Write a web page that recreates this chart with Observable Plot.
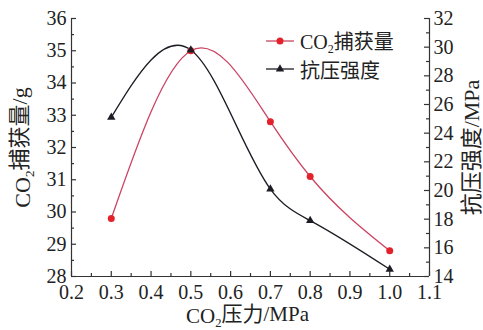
<!DOCTYPE html>
<html><head><meta charset="utf-8">
<script src="https://cdn.jsdelivr.net/npm/d3@7"></script>
<script src="https://cdn.jsdelivr.net/npm/@observablehq/plot@0.6"></script>
<style>
body{margin:0;background:#fff;}
#chart{position:relative;width:483px;height:330px;}
.legend{position:absolute;left:264px;top:27px;font-family:'Liberation Serif','Noto Sans CJK SC',serif;font-size:20px;color:#222;}
.legend .row{display:flex;align-items:center;height:28px;}
.legend svg{width:32px;height:14px;margin-right:4px;}
.legend sub{font-size:12px;vertical-align:-4px;}
</style></head><body><div id="chart"><div class="legend" id="legend"></div></div>
<script>
// ---- data ----
const pressure = [0.3, 0.5, 0.7, 0.8, 1.0];
const co2Capture = [29.8, 35.0, 32.8, 31.1, 28.8];
const strength = [25.1, 29.8, 20.1, 17.9, 14.5];
const xTicks = [0.2, 0.3, 0.4, 0.5, 0.6, 0.7, 0.8, 0.9, 1.0, 1.1];
const xMinor = [0.25, 0.35, 0.45, 0.55, 0.65, 0.75, 0.85, 0.95, 1.05];
const leftTicks = [28, 29, 30, 31, 32, 33, 34, 35, 36];
const leftMinor = [28.5, 29.5, 30.5, 31.5, 32.5, 33.5, 34.5, 35.5];
const rightTicks = [14, 16, 18, 20, 22, 24, 26, 28, 30, 32];
const rightMinor = [15, 17, 19, 21, 23, 25, 27, 29, 31];
const seriesNames = ["CO2捕获量", "抗压强度"];
const xTitle = "CO2压力/MPa";
const leftTitle = "CO2捕获量/g";
const rightTitle = "抗压强度/MPa";

const leftDomain = [28, 36];
const rightDomain = [14, 32];
const toLeft = v => leftDomain[0] + (v - rightDomain[0]) * (leftDomain[1] - leftDomain[0]) / (rightDomain[1] - rightDomain[0]);

const rows = pressure.map((p, i) => ({p, co2: co2Capture[i], s: strength[i]}));

const redLine = "#cc4363", redDot = "#e3222b", blk = "#1c1c24", axisC = "#333";
const font = "'Liberation Serif','Noto Sans CJK SC',serif";

// natural cubic spline in x (y as a function of x), drawn as Bézier segments
function splineX(context) {
  let xs, ys;
  return {
    areaStart() {}, areaEnd() {},
    lineStart() { xs = []; ys = []; },
    point(x, y) { xs.push(+x); ys.push(+y); },
    lineEnd() {
      const n = xs.length;
      if (!n) return;
      context.moveTo(xs[0], ys[0]);
      if (n === 2) { context.lineTo(xs[1], ys[1]); return; }
      const h = [], d = [];
      for (let i = 0; i < n - 1; i++) { h[i] = xs[i + 1] - xs[i]; d[i] = (ys[i + 1] - ys[i]) / h[i]; }
      const M = new Array(n).fill(0), a = [], b = [], c = [], r = [];
      for (let i = 1; i < n - 1; i++) { a[i] = h[i - 1]; b[i] = 2 * (h[i - 1] + h[i]); c[i] = h[i]; r[i] = 6 * (d[i] - d[i - 1]); }
      for (let i = 2; i < n - 1; i++) { const m = a[i] / b[i - 1]; b[i] -= m * c[i - 1]; r[i] -= m * r[i - 1]; }
      for (let i = n - 2; i >= 1; i--) M[i] = (r[i] - c[i] * M[i + 1]) / b[i];
      for (let i = 0; i < n - 1; i++) {
        const s0 = d[i] - h[i] * (2 * M[i] + M[i + 1]) / 6;
        const s1 = d[i] + h[i] * (M[i] + 2 * M[i + 1]) / 6;
        context.bezierCurveTo(xs[i] + h[i] / 3, ys[i] + s0 * h[i] / 3, xs[i + 1] - h[i] / 3, ys[i + 1] - s1 * h[i] / 3, xs[i + 1], ys[i + 1]);
      }
    }
  };
}

const plot = Plot.plot({
  width: 483, height: 330,
  marginLeft: 71, marginRight: 54, marginTop: 18, marginBottom: 54,
  x: {domain: [0.2, 1.1], axis: null},
  y: {domain: leftDomain, axis: null},
  style: {fontFamily: font, fontSize: "20px", color: "#222", background: "white", overflow: "visible"},
  marks: [
    // axis lines
    Plot.ruleX([0.2], {x: d => d, y1: 28, y2: 36, stroke: axisC, strokeWidth: 1.2}),
    Plot.ruleX([1.1], {x: d => d, y1: 28, y2: 36, stroke: axisC, strokeWidth: 1.2}),
    Plot.ruleY([28], {y: d => d, x1: 0.2, x2: 1.1, stroke: axisC, strokeWidth: 1.2}),
    // inward ticks
    Plot.ruleX(xTicks, {x: d => d, y1: 28, y2: 28, insetTop: -5, stroke: axisC, strokeWidth: 1.2}),
    Plot.ruleX(xMinor, {x: d => d, y1: 28, y2: 28, insetTop: -3, stroke: axisC, strokeWidth: 1.2}),
    Plot.ruleY(leftTicks, {y: d => d, x1: 0.2, x2: 0.2, insetRight: -5, stroke: axisC, strokeWidth: 1.2}),
    Plot.ruleY(leftMinor, {y: d => d, x1: 0.2, x2: 0.2, insetRight: -3, stroke: axisC, strokeWidth: 1.2}),
    Plot.ruleY(rightTicks, {y: d => toLeft(d), x1: 1.1, x2: 1.1, insetLeft: -5, stroke: axisC, strokeWidth: 1.2}),
    Plot.ruleY(rightMinor, {y: d => toLeft(d), x1: 1.1, x2: 1.1, insetLeft: -3, stroke: axisC, strokeWidth: 1.2}),
    // tick labels
    Plot.text(xTicks, {x: d => d, y: 28, text: d => d.toFixed(1), dy: 16, lineAnchor: "middle", fontSize: 20, fill: "#222"}),
    Plot.text(leftTicks, {x: 0.2, y: d => d, text: d => String(d), dx: -5, textAnchor: "end", lineAnchor: "middle", fontSize: 20, fill: "#222"}),
    Plot.text(rightTicks, {x: 1.1, y: d => toLeft(d), text: d => String(d), dx: 4, textAnchor: "start", lineAnchor: "middle", fontSize: 20, fill: "#222"}),
    // axis titles
    Plot.text([xTitle], {frameAnchor: "bottom", text: d => d, dy: 40, dx: -3, textAnchor: "middle", lineAnchor: "middle", fontSize: 21, fill: "#222"}),
    Plot.text([leftTitle], {frameAnchor: "left", text: d => d, dx: -49, rotate: -90, textAnchor: "middle", lineAnchor: "middle", fontSize: 22, fill: "#222"}),
    Plot.text([rightTitle], {frameAnchor: "right", text: d => d, dx: 42, dy: 0, rotate: -90, textAnchor: "middle", lineAnchor: "middle", fontSize: 22, fill: "#222"}),
    // series
    Plot.line(rows, {x: "p", y: "co2", curve: splineX, stroke: redLine, strokeWidth: 1.3}),
    Plot.line(rows, {x: "p", y: d => toLeft(d.s), curve: splineX, stroke: blk, strokeWidth: 1.3}),
    Plot.dot(rows, {x: "p", y: "co2", r: 3.5, fill: redDot, stroke: null}),
    Plot.dot(rows, {x: "p", y: d => toLeft(d.s), symbol: "triangle", r: 3.1, fill: blk, stroke: null})
  ]
});

// subscript "2" in CO2 titles
d3.select(plot).selectAll("text").each(function () {
  const t = this.textContent;
  if (t.startsWith("CO2")) {
    const el = d3.select(this);
    el.text(null);
    el.append("tspan").text("CO");
    el.append("tspan").text("2").attr("font-size", "0.6em").attr("dy", "0.3em");
    el.append("tspan").text(t.slice(3)).attr("dy", "-0.3em");
  }
});

document.getElementById("chart").prepend(plot);

// legend
const leg = document.getElementById("legend");
const items = [
  {name: seriesNames[0], line: redLine, fill: redDot, sym: "circle"},
  {name: seriesNames[1], line: blk, fill: blk, sym: "triangle"}
];
items.forEach(it => {
  const row = document.createElement("div");
  row.className = "row";
  const marker = it.sym === "circle"
    ? `<circle cx="16" cy="7" r="3.5" fill="${it.fill}"/>`
    : `<path d="${d3.symbol(d3.symbolTriangle, 3.1 * 3.1 * Math.PI)()}" transform="translate(16,7)" fill="${it.fill}"/>`;
  row.innerHTML = `<svg viewBox="0 0 32 14"><line x1="2" x2="30" y1="7" y2="7" stroke="${it.line}" stroke-width="1.3"/>${marker}</svg><span>${it.name.replace("CO2", "CO<sub>2</sub>")}</span>`;
  leg.appendChild(row);
});
</script></body></html>
